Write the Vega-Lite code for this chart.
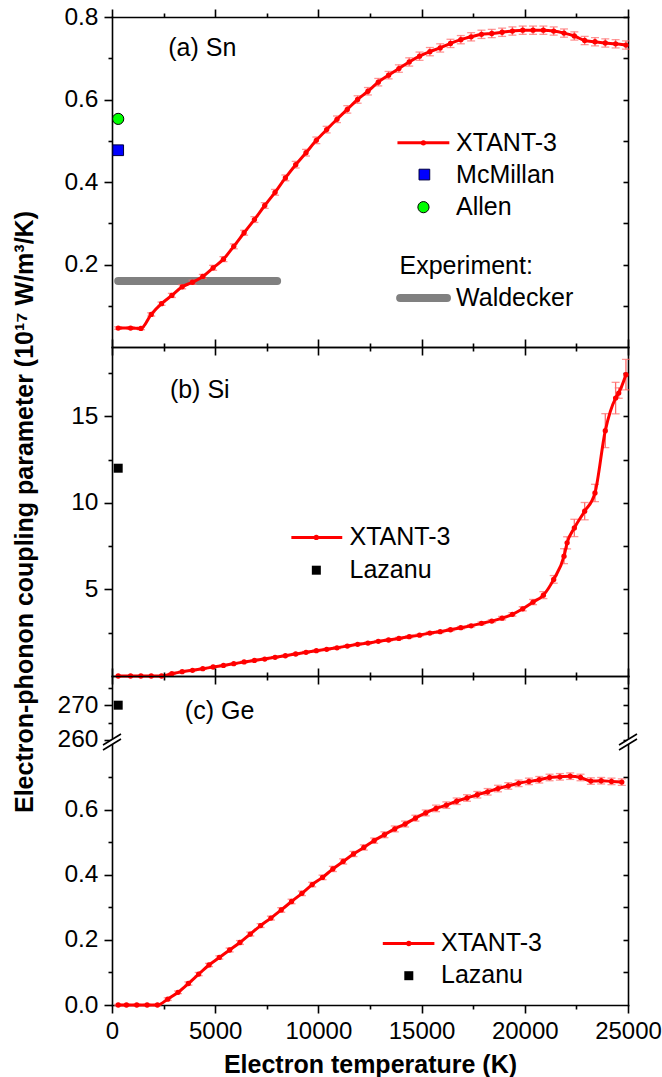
{
"$schema":"https://vega.github.io/schema/vega-lite/v6.json",
"background":"white",
"padding":{"left":12,"top":4,"right":0,"bottom":4},
"bounds":"flush",
"spacing":0,
"datasets":{
"sn":[{"T":300,"G":0.046,"err":0.003},{"T":900,"G":0.046,"err":0.003},{"T":1400,"G":0.045,"err":0.003},{"T":1900,"G":0.079,"err":0.004},{"T":2400,"G":0.105,"err":0.004},{"T":2900,"G":0.125,"err":0.005},{"T":3400,"G":0.146,"err":0.005},{"T":3900,"G":0.157,"err":0.005},{"T":4400,"G":0.171,"err":0.005},{"T":4900,"G":0.192,"err":0.006},{"T":5400,"G":0.213,"err":0.006},{"T":5900,"G":0.244,"err":0.006},{"T":6400,"G":0.277,"err":0.006},{"T":6900,"G":0.309,"err":0.007},{"T":7400,"G":0.343,"err":0.007},{"T":7900,"G":0.375,"err":0.007},{"T":8400,"G":0.41,"err":0.007},{"T":8900,"G":0.442,"err":0.008},{"T":9400,"G":0.471,"err":0.008},{"T":9900,"G":0.501,"err":0.008},{"T":10400,"G":0.527,"err":0.008},{"T":10900,"G":0.552,"err":0.008},{"T":11400,"G":0.576,"err":0.009},{"T":11900,"G":0.6,"err":0.009},{"T":12400,"G":0.62,"err":0.009},{"T":12900,"G":0.642,"err":0.009},{"T":13400,"G":0.659,"err":0.009},{"T":13900,"G":0.675,"err":0.009},{"T":14400,"G":0.691,"err":0.01},{"T":14900,"G":0.705,"err":0.01},{"T":15400,"G":0.716,"err":0.01},{"T":15900,"G":0.725,"err":0.01},{"T":16400,"G":0.736,"err":0.01},{"T":16900,"G":0.745,"err":0.01},{"T":17400,"G":0.752,"err":0.01},{"T":17900,"G":0.758,"err":0.01},{"T":18400,"G":0.76,"err":0.01},{"T":18900,"G":0.763,"err":0.01},{"T":19400,"G":0.766,"err":0.01},{"T":19900,"G":0.768,"err":0.01},{"T":20400,"G":0.768,"err":0.01},{"T":20900,"G":0.768,"err":0.01},{"T":21400,"G":0.766,"err":0.01},{"T":21900,"G":0.761,"err":0.01},{"T":22400,"G":0.754,"err":0.01},{"T":22900,"G":0.743,"err":0.01},{"T":23400,"G":0.74,"err":0.01},{"T":23900,"G":0.737,"err":0.01},{"T":24400,"G":0.735,"err":0.01},{"T":24900,"G":0.732,"err":0.01}],
"si":[{"T":300,"G":0,"err":0.02},{"T":900,"G":0,"err":0.02},{"T":1400,"G":0,"err":0.02},{"T":1900,"G":0,"err":0.02},{"T":2400,"G":0,"err":0.02},{"T":2900,"G":0.13,"err":0.03},{"T":3400,"G":0.25,"err":0.03},{"T":3900,"G":0.33,"err":0.03},{"T":4400,"G":0.42,"err":0.03},{"T":4900,"G":0.52,"err":0.03},{"T":5400,"G":0.61,"err":0.03},{"T":5900,"G":0.71,"err":0.03},{"T":6400,"G":0.81,"err":0.04},{"T":6900,"G":0.9,"err":0.04},{"T":7400,"G":0.98,"err":0.04},{"T":7900,"G":1.08,"err":0.04},{"T":8400,"G":1.17,"err":0.04},{"T":8900,"G":1.27,"err":0.04},{"T":9400,"G":1.37,"err":0.05},{"T":9900,"G":1.46,"err":0.05},{"T":10400,"G":1.54,"err":0.05},{"T":10900,"G":1.63,"err":0.05},{"T":11400,"G":1.73,"err":0.05},{"T":11900,"G":1.83,"err":0.05},{"T":12400,"G":1.9,"err":0.05},{"T":12900,"G":2.0,"err":0.05},{"T":13400,"G":2.08,"err":0.06},{"T":13900,"G":2.17,"err":0.06},{"T":14400,"G":2.27,"err":0.06},{"T":14900,"G":2.36,"err":0.06},{"T":15400,"G":2.48,"err":0.06},{"T":15900,"G":2.56,"err":0.06},{"T":16400,"G":2.67,"err":0.07},{"T":16900,"G":2.79,"err":0.07},{"T":17400,"G":2.9,"err":0.07},{"T":17900,"G":3.04,"err":0.08},{"T":18400,"G":3.17,"err":0.08},{"T":18900,"G":3.34,"err":0.1},{"T":19400,"G":3.56,"err":0.1},{"T":19900,"G":3.88,"err":0.12},{"T":20400,"G":4.27,"err":0.15},{"T":20900,"G":4.67,"err":0.2},{"T":21400,"G":5.58,"err":0.22},{"T":21900,"G":6.92,"err":0.43},{"T":22050,"G":7.69,"err":0.35},{"T":22400,"G":8.55,"err":0.5},{"T":22900,"G":9.52,"err":0.5},{"T":23400,"G":10.57,"err":0.5},{"T":23900,"G":14.17,"err":0.98},{"T":24400,"G":16.05,"err":0.91},{"T":24550,"G":16.34,"err":0.3},{"T":24900,"G":17.4,"err":0.88}],
"ge":[{"T":300,"G":0,"err":0.002},{"T":700,"G":0,"err":0.002},{"T":1200,"G":0,"err":0.002},{"T":1700,"G":0,"err":0.002},{"T":2200,"G":0,"err":0.002},{"T":2700,"G":0.018,"err":0.004},{"T":3200,"G":0.039,"err":0.004},{"T":3700,"G":0.066,"err":0.005},{"T":4200,"G":0.095,"err":0.005},{"T":4700,"G":0.123,"err":0.005},{"T":5200,"G":0.146,"err":0.005},{"T":5700,"G":0.169,"err":0.006},{"T":6200,"G":0.192,"err":0.006},{"T":6700,"G":0.218,"err":0.006},{"T":7200,"G":0.244,"err":0.006},{"T":7700,"G":0.267,"err":0.006},{"T":8200,"G":0.292,"err":0.007},{"T":8700,"G":0.318,"err":0.007},{"T":9200,"G":0.343,"err":0.007},{"T":9700,"G":0.37,"err":0.007},{"T":10200,"G":0.392,"err":0.007},{"T":10700,"G":0.418,"err":0.008},{"T":11200,"G":0.441,"err":0.008},{"T":11700,"G":0.464,"err":0.008},{"T":12200,"G":0.484,"err":0.008},{"T":12700,"G":0.505,"err":0.008},{"T":13200,"G":0.523,"err":0.009},{"T":13700,"G":0.541,"err":0.009},{"T":14200,"G":0.556,"err":0.009},{"T":14700,"G":0.574,"err":0.009},{"T":15200,"G":0.59,"err":0.009},{"T":15700,"G":0.604,"err":0.01},{"T":16200,"G":0.614,"err":0.01},{"T":16700,"G":0.626,"err":0.01},{"T":17200,"G":0.636,"err":0.01},{"T":17700,"G":0.646,"err":0.01},{"T":18200,"G":0.655,"err":0.01},{"T":18700,"G":0.665,"err":0.01},{"T":19200,"G":0.673,"err":0.01},{"T":19700,"G":0.681,"err":0.01},{"T":20200,"G":0.687,"err":0.01},{"T":20700,"G":0.692,"err":0.01},{"T":21200,"G":0.699,"err":0.01},{"T":21700,"G":0.701,"err":0.01},{"T":22200,"G":0.703,"err":0.01},{"T":22700,"G":0.699,"err":0.01},{"T":23200,"G":0.688,"err":0.01},{"T":23700,"G":0.689,"err":0.01},{"T":24200,"G":0.687,"err":0.01},{"T":24700,"G":0.685,"err":0.01}],
"mcmillan":[{"T":300,"G":0.477}],
"allen":[{"T":300,"G":0.553}],
"waldecker":[{"T":300,"G":0.16},{"T":8000,"G":0.16}],
"lazanuSi":[{"T":300,"G":12}],
"lazanuGe":[{"T":300,"G":270}],
"one":[{}]
},
"vconcat":[
{"width":516,"height":330,
"resolve":{"axis":{"x":"independent","y":"independent"}},
"layer":[
{"data":{"name":"sn"},"mark":{"type":"point","opacity":0},"encoding":{
"x":{"field":"T","type":"quantitative","scale":{"domain":[0,25000],"nice":false,"zero":false},"axis":{"orient":"bottom","values":[0,5000,10000,15000,20000,25000],"labels":false,"tickSize":8,"title":null}},
"y":{"field":"G","type":"quantitative","scale":{"domain":[0,0.8],"nice":false,"zero":false},"axis":{"orient":"left","values":[0.2,0.4,0.6,0.8],"format":".1f","tickSize":8,"labelPadding":6,"title":null}}}},
{"data":{"name":"sn"},"mark":{"type":"point","opacity":0},"encoding":{
"x":{"field":"T","type":"quantitative","axis":{"orient":"bottom","values":[2500,7500,12500,17500,22500],"labels":false,"tickSize":4,"domain":false,"title":null}},
"y":{"field":"G","type":"quantitative","axis":{"orient":"left","values":[0.1,0.3,0.5,0.7],"labels":false,"tickSize":4,"domain":false,"title":null}}}},
{"data":{"name":"sn"},"mark":{"type":"point","opacity":0},"encoding":{
"x":{"field":"T","type":"quantitative","axis":{"orient":"top","values":[0,5000,10000,15000,20000,25000],"labels":false,"tickSize":8,"title":null}},
"y":{"field":"G","type":"quantitative","axis":{"orient":"right","values":[0.1,0.2,0.3,0.4,0.5,0.6,0.7,0.8],"labels":false,"tickSize":-5,"title":null}}}},
{"data":{"name":"sn"},"mark":{"type":"point","opacity":0},"encoding":{
"x":{"field":"T","type":"quantitative","axis":{"orient":"top","values":[2500,7500,12500,17500,22500],"labels":false,"tickSize":4,"domain":false,"title":null}},
"y":{"field":"G","type":"quantitative","axis":null}}},
{"data":{"name":"waldecker"},"mark":{"type":"line","color":"#808080","strokeWidth":8,"strokeCap":"round"},"encoding":{"x":{"field":"T","type":"quantitative","axis":null},"y":{"field":"G","type":"quantitative","axis":null}}},
{"data":{"name":"sn"},"mark":{"type":"errorbar","ticks":{"size":8},"color":"#FF6A6A","thickness":1.3},"encoding":{"x":{"field":"T","type":"quantitative","axis":null},"y":{"field":"G","type":"quantitative","axis":null},"yError":{"field":"err"}}},
{"data":{"name":"sn"},"mark":{"type":"line","color":"#FF0000","strokeWidth":3,"interpolate":"monotone"},"encoding":{"x":{"field":"T","type":"quantitative","axis":null},"y":{"field":"G","type":"quantitative","axis":null}}},
{"data":{"name":"sn"},"mark":{"type":"circle","color":"#FF0000","size":28,"opacity":1},"encoding":{"x":{"field":"T","type":"quantitative","axis":null},"y":{"field":"G","type":"quantitative","axis":null}}},
{"data":{"name":"mcmillan"},"mark":{"type":"square","size":115,"color":"#0000FF","opacity":1,"stroke":"#00003F","strokeWidth":1},"encoding":{"x":{"field":"T","type":"quantitative","axis":null},"y":{"field":"G","type":"quantitative","axis":null}}},
{"data":{"name":"allen"},"mark":{"type":"circle","size":125,"color":"#00FF00","opacity":1,"stroke":"#000000","strokeWidth":1},"encoding":{"x":{"field":"T","type":"quantitative","axis":null},"y":{"field":"G","type":"quantitative","axis":null}}},
{"data":{"name":"one"},"mark":{"type":"text","text":"(a) Sn","align":"left","baseline":"middle","fontSize":25},"encoding":{"x":{"datum":2725,"axis":null},"y":{"datum":0.725,"axis":null}}},
{"data":{"name":"one"},"mark":{"type":"rule","color":"#FF0000","strokeWidth":3},"encoding":{"x":{"datum":13830,"axis":null},"x2":{"datum":16344},"y":{"datum":0.495,"axis":null}}},
{"data":{"name":"one"},"mark":{"type":"circle","color":"#FF0000","size":28,"opacity":1},"encoding":{"x":{"datum":15087,"axis":null},"y":{"datum":0.495,"axis":null}}},
{"data":{"name":"one"},"mark":{"type":"text","text":"XTANT-3","align":"left","baseline":"middle","fontSize":25},"encoding":{"x":{"datum":16670,"axis":null},"y":{"datum":0.495,"axis":null}}},
{"data":{"name":"one"},"mark":{"type":"square","size":115,"color":"#0000FF","opacity":1,"stroke":"#00003F","strokeWidth":1},"encoding":{"x":{"datum":15135,"axis":null},"y":{"datum":0.418,"axis":null}}},
{"data":{"name":"one"},"mark":{"type":"text","text":"McMillan","align":"left","baseline":"middle","fontSize":25},"encoding":{"x":{"datum":16670,"axis":null},"y":{"datum":0.418,"axis":null}}},
{"data":{"name":"one"},"mark":{"type":"circle","size":125,"color":"#00FF00","opacity":1,"stroke":"#000000","strokeWidth":1},"encoding":{"x":{"datum":15090,"axis":null},"y":{"datum":0.339,"axis":null}}},
{"data":{"name":"one"},"mark":{"type":"text","text":"Allen","align":"left","baseline":"middle","fontSize":25},"encoding":{"x":{"datum":16670,"axis":null},"y":{"datum":0.339,"axis":null}}},
{"data":{"name":"one"},"mark":{"type":"text","text":"Experiment:","align":"left","baseline":"middle","fontSize":25},"encoding":{"x":{"datum":13930,"axis":null},"y":{"datum":0.196,"axis":null}}},
{"data":{"name":"one"},"mark":{"type":"rule","color":"#808080","strokeWidth":8,"strokeCap":"round"},"encoding":{"x":{"datum":13960,"axis":null},"x2":{"datum":16230},"y":{"datum":0.119,"axis":null}}},
{"data":{"name":"one"},"mark":{"type":"text","text":"Waldecker","align":"left","baseline":"middle","fontSize":25},"encoding":{"x":{"datum":16670,"axis":null},"y":{"datum":0.119,"axis":null}}}
]},
{"width":516,"height":329,
"resolve":{"axis":{"x":"independent","y":"independent"}},
"layer":[
{"data":{"name":"si"},"mark":{"type":"point","opacity":0},"encoding":{
"x":{"field":"T","type":"quantitative","scale":{"domain":[0,25000],"nice":false,"zero":false},"axis":{"orient":"bottom","values":[0,5000,10000,15000,20000,25000],"labels":false,"tickSize":8,"title":null}},
"y":{"field":"G","type":"quantitative","scale":{"domain":[0,19],"nice":false,"zero":false},"axis":{"orient":"left","values":[5,10,15],"format":"d","tickSize":8,"labelPadding":6,"title":"Electron-phonon coupling parameter (10¹⁷ W/m³/K)","titlePadding":33,"titleFontSize":25}}}},
{"data":{"name":"si"},"mark":{"type":"point","opacity":0},"encoding":{
"x":{"field":"T","type":"quantitative","axis":{"orient":"bottom","values":[2500,7500,12500,17500,22500],"labels":false,"tickSize":4,"domain":false,"title":null}},
"y":{"field":"G","type":"quantitative","axis":{"orient":"left","values":[2.5,7.5,12.5,17.5],"labels":false,"tickSize":4,"domain":false,"title":null}}}},
{"data":{"name":"si"},"mark":{"type":"point","opacity":0},"encoding":{
"x":{"field":"T","type":"quantitative","axis":{"orient":"top","values":[0,5000,10000,15000,20000,25000],"labels":false,"tickSize":8,"title":null}},
"y":{"field":"G","type":"quantitative","axis":{"orient":"right","values":[2.5,5,7.5,10,12.5,15,17.5],"labels":false,"tickSize":-5,"title":null}}}},
{"data":{"name":"si"},"mark":{"type":"point","opacity":0},"encoding":{
"x":{"field":"T","type":"quantitative","axis":{"orient":"top","values":[2500,7500,12500,17500,22500],"labels":false,"tickSize":4,"domain":false,"title":null}},
"y":{"field":"G","type":"quantitative","axis":null}}},
{"data":{"name":"si"},"mark":{"type":"errorbar","ticks":{"size":8},"color":"#FF6A6A","thickness":1.3},"encoding":{"x":{"field":"T","type":"quantitative","axis":null},"y":{"field":"G","type":"quantitative","axis":null},"yError":{"field":"err"}}},
{"data":{"name":"si"},"mark":{"type":"line","color":"#FF0000","strokeWidth":3,"interpolate":"monotone"},"encoding":{"x":{"field":"T","type":"quantitative","axis":null},"y":{"field":"G","type":"quantitative","axis":null}}},
{"data":{"name":"si"},"mark":{"type":"circle","color":"#FF0000","size":28,"opacity":1},"encoding":{"x":{"field":"T","type":"quantitative","axis":null},"y":{"field":"G","type":"quantitative","axis":null}}},
{"data":{"name":"lazanuSi"},"mark":{"type":"square","size":81,"color":"#000000","opacity":1},"encoding":{"x":{"field":"T","type":"quantitative","axis":null},"y":{"field":"G","type":"quantitative","axis":null}}},
{"data":{"name":"one"},"mark":{"type":"text","text":"(b) Si","align":"left","baseline":"middle","fontSize":25},"encoding":{"x":{"datum":2805,"axis":null},"y":{"datum":16.53,"axis":null}}},
{"data":{"name":"one"},"mark":{"type":"rule","color":"#FF0000","strokeWidth":3},"encoding":{"x":{"datum":8690,"axis":null},"x2":{"datum":11156},"y":{"datum":8,"axis":null}}},
{"data":{"name":"one"},"mark":{"type":"circle","color":"#FF0000","size":28,"opacity":1},"encoding":{"x":{"datum":9898,"axis":null},"y":{"datum":8,"axis":null}}},
{"data":{"name":"one"},"mark":{"type":"text","text":"XTANT-3","align":"left","baseline":"middle","fontSize":25},"encoding":{"x":{"datum":11508,"axis":null},"y":{"datum":8,"axis":null}}},
{"data":{"name":"one"},"mark":{"type":"square","size":81,"color":"#000000","opacity":1},"encoding":{"x":{"datum":9900,"axis":null},"y":{"datum":6.11,"axis":null}}},
{"data":{"name":"one"},"mark":{"type":"text","text":"Lazanu","align":"left","baseline":"middle","fontSize":25},"encoding":{"x":{"datum":11508,"axis":null},"y":{"datum":6.11,"axis":null}}}
]},
{"width":516,"height":66,
"resolve":{"axis":{"x":"independent","y":"independent"}},
"layer":[
{"data":{"name":"lazanuGe"},"mark":{"type":"square","size":81,"color":"#000000","opacity":1},"encoding":{
"x":{"field":"T","type":"quantitative","scale":{"domain":[0,25000],"nice":false,"zero":false},"axis":{"orient":"top","values":[0,5000,10000,15000,20000,25000],"labels":false,"tickSize":8,"title":null}},
"y":{"field":"G","type":"quantitative","scale":{"domain":[259.4,278.4],"nice":false,"zero":false},"axis":{"orient":"left","values":[260,270],"format":"d","tickSize":8,"labelPadding":6,"title":null}}}},
{"data":{"name":"lazanuGe"},"mark":{"type":"point","opacity":0},"encoding":{
"x":{"field":"T","type":"quantitative","axis":{"orient":"top","values":[2500,7500,12500,17500,22500],"labels":false,"tickSize":4,"domain":false,"title":null}},
"y":{"field":"G","type":"quantitative","axis":{"orient":"left","values":[265,275],"labels":false,"tickSize":4,"domain":false,"title":null}}}},
{"data":{"name":"lazanuGe"},"mark":{"type":"point","opacity":0},"encoding":{
"x":{"field":"T","type":"quantitative","axis":null},
"y":{"field":"G","type":"quantitative","axis":{"orient":"right","values":[260,265,270,275],"labels":false,"tickSize":-5,"title":null}}}},
{"data":{"name":"one"},"mark":{"type":"text","text":"(c) Ge","align":"left","baseline":"middle","fontSize":25},"encoding":{"x":{"datum":3530,"axis":null},"y":{"datum":268.4,"axis":null}}}
]},
{"width":516,"height":263,
"resolve":{"axis":{"x":"independent","y":"independent"}},
"layer":[
{"data":{"name":"ge"},"mark":{"type":"point","opacity":0},"encoding":{
"x":{"field":"T","type":"quantitative","scale":{"domain":[0,25000],"nice":false,"zero":false},"axis":{"orient":"bottom","values":[0,5000,10000,15000,20000,25000],"format":"d","labelFlush":false,"tickSize":8,"labelPadding":6,"labelFontSize":24,"title":"Electron temperature (K)","titlePadding":9}},
"y":{"field":"G","type":"quantitative","scale":{"domain":[0,0.808],"nice":false,"zero":false},"axis":{"orient":"left","values":[0,0.2,0.4,0.6],"format":".1f","tickSize":8,"labelPadding":6,"title":null}}}},
{"data":{"name":"ge"},"mark":{"type":"point","opacity":0},"encoding":{
"x":{"field":"T","type":"quantitative","axis":{"orient":"bottom","values":[2500,7500,12500,17500,22500],"labels":false,"tickSize":4,"domain":false,"title":null}},
"y":{"field":"G","type":"quantitative","axis":{"orient":"left","values":[0.1,0.3,0.5,0.7],"labels":false,"tickSize":4,"domain":false,"title":null}}}},
{"data":{"name":"ge"},"mark":{"type":"point","opacity":0},"encoding":{
"x":{"field":"T","type":"quantitative","axis":null},
"y":{"field":"G","type":"quantitative","axis":{"orient":"right","values":[0.1,0.2,0.3,0.4,0.5,0.6,0.7],"labels":false,"tickSize":-5,"title":null}}}},
{"data":{"name":"ge"},"mark":{"type":"errorbar","ticks":{"size":8},"color":"#FF6A6A","thickness":1.3},"encoding":{"x":{"field":"T","type":"quantitative","axis":null},"y":{"field":"G","type":"quantitative","axis":null},"yError":{"field":"err"}}},
{"data":{"name":"ge"},"mark":{"type":"line","color":"#FF0000","strokeWidth":3,"interpolate":"monotone"},"encoding":{"x":{"field":"T","type":"quantitative","axis":null},"y":{"field":"G","type":"quantitative","axis":null}}},
{"data":{"name":"ge"},"mark":{"type":"circle","color":"#FF0000","size":28,"opacity":1},"encoding":{"x":{"field":"T","type":"quantitative","axis":null},"y":{"field":"G","type":"quantitative","axis":null}}},
{"data":{"name":"one"},"mark":{"type":"rule","color":"#FF0000","strokeWidth":3},"encoding":{"x":{"datum":13120,"axis":null},"x2":{"datum":15620},"y":{"datum":0.189,"axis":null}}},
{"data":{"name":"one"},"mark":{"type":"circle","color":"#FF0000","size":28,"opacity":1},"encoding":{"x":{"datum":14380,"axis":null},"y":{"datum":0.189,"axis":null}}},
{"data":{"name":"one"},"mark":{"type":"text","text":"XTANT-3","align":"left","baseline":"middle","fontSize":25},"encoding":{"x":{"datum":15940,"axis":null},"y":{"datum":0.19,"axis":null}}},
{"data":{"name":"one"},"mark":{"type":"square","size":81,"color":"#000000","opacity":1},"encoding":{"x":{"datum":14380,"axis":null},"y":{"datum":0.09,"axis":null}}},
{"data":{"name":"one"},"mark":{"type":"text","text":"Lazanu","align":"left","baseline":"middle","fontSize":25},"encoding":{"x":{"datum":15940,"axis":null},"y":{"datum":0.092,"axis":null}}},
{"data":{"name":"one"},"mark":{"type":"rule","color":"#FFFFFF","strokeWidth":4},"encoding":{"x":{"datum":-300,"axis":null},"x2":{"datum":300},"y":{"datum":0.7963,"axis":null},"y2":{"datum":0.8197}}},
{"data":{"name":"one"},"mark":{"type":"rule","color":"#000000","strokeWidth":1.6},"encoding":{"x":{"datum":-435,"axis":null},"x2":{"datum":435},"y":{"datum":0.7988,"axis":null},"y2":{"datum":0.8326}}},
{"data":{"name":"one"},"mark":{"type":"rule","color":"#000000","strokeWidth":1.6},"encoding":{"x":{"datum":-435,"axis":null},"x2":{"datum":435},"y":{"datum":0.7834,"axis":null},"y2":{"datum":0.8172}}},
{"data":{"name":"one"},"mark":{"type":"rule","color":"#FFFFFF","strokeWidth":4},"encoding":{"x":{"datum":24700,"axis":null},"x2":{"datum":25300},"y":{"datum":0.7963,"axis":null},"y2":{"datum":0.8197}}},
{"data":{"name":"one"},"mark":{"type":"rule","color":"#000000","strokeWidth":1.6},"encoding":{"x":{"datum":24565,"axis":null},"x2":{"datum":25435},"y":{"datum":0.7988,"axis":null},"y2":{"datum":0.8326}}},
{"data":{"name":"one"},"mark":{"type":"rule","color":"#000000","strokeWidth":1.6},"encoding":{"x":{"datum":24565,"axis":null},"x2":{"datum":25435},"y":{"datum":0.7834,"axis":null},"y2":{"datum":0.8172}}}
]}
],
"config":{
"font":"Liberation Sans",
"view":{"stroke":null},
"axis":{"grid":false,"labelFont":"Liberation Sans","labelFontSize":24.5,"labelColor":"#000","titleFont":"Liberation Sans","titleFontSize":25,"titleFontWeight":"bold","titleColor":"#000","domainColor":"#000","tickColor":"#000","domainWidth":1.6,"tickWidth":1.6,"labelFlush":false,"labelOverlap":false,"domainCap":"square"},
"text":{"font":"Liberation Sans","fontSize":25,"color":"#000"}
}
}
